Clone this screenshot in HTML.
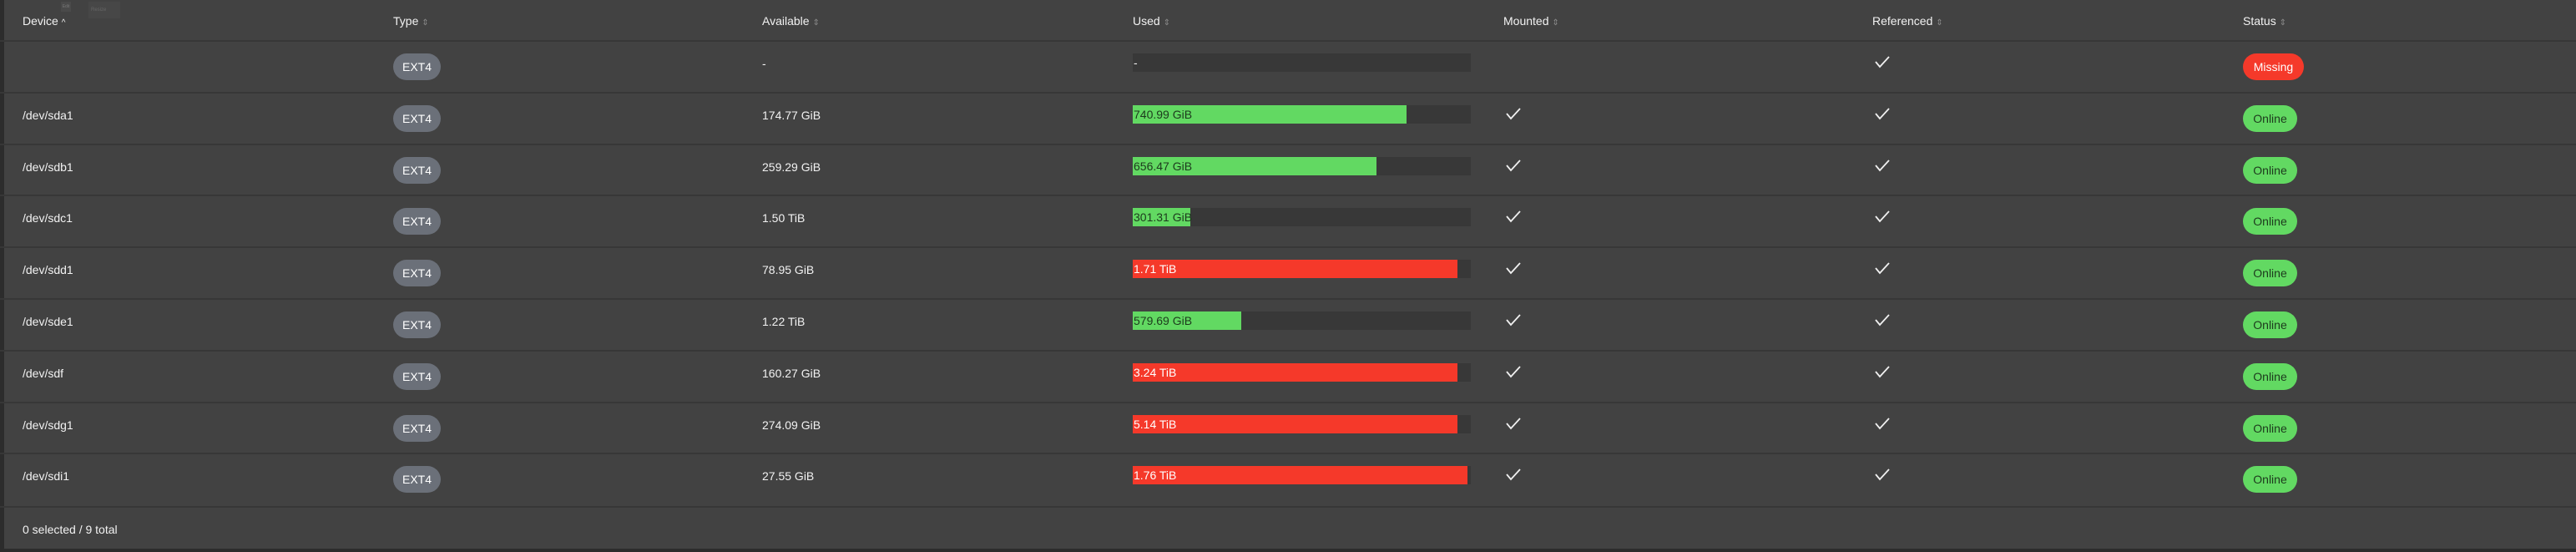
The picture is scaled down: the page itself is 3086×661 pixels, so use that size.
<!DOCTYPE html>
<html><head><meta charset="utf-8"><style>
*{margin:0;padding:0;box-sizing:border-box}
body{width:3086px;height:661px;background:#424242;position:relative;overflow:hidden;font-family:"Liberation Sans",sans-serif;font-size:14px;color:#f2f2f2}
.a{position:absolute;white-space:nowrap}
.hl{position:absolute;left:0;width:3086px;height:2px;background:#373737}
.t{line-height:16px}
.badge{position:absolute;height:32px;border-radius:16px;line-height:32px;text-align:center;font-size:14px}
.track{position:absolute;left:1357px;width:405px;height:22px;background:#383838}
.fill{position:absolute;left:0;top:0;height:22px;line-height:22px;font-size:14px;padding-left:1px;white-space:nowrap;overflow:visible}
.g{background:#62d962;color:#1d3a1d}
.r{background:#f5392a;color:#fff}
.ar{color:#8a8a8a;font-size:10px}
</style></head><body>
<div class="a" style="left:0;top:0;width:5px;height:661px;background:#2c2c2c"></div>
<div class="a" style="left:0;top:657px;width:3086px;height:4px;background:#2c2c2c"></div>
<div class="a" style="left:73px;top:2px;width:12px;height:12px;background:#4a4a4a;font-size:5px;color:#777;text-align:center;line-height:12px">Edit</div>
<div class="a" style="left:106px;top:2px;width:38px;height:20px;background:#474747;font-size:6px;color:#666;line-height:20px;padding-left:3px">Resize</div>

<div class="a t" style="left:27px;top:17px">Device <span style="font-size:10px">^</span></div>
<div class="a t" style="left:471px;top:17px">Type <span class="ar">⇕</span></div>
<div class="a t" style="left:913px;top:17px">Available <span class="ar">⇕</span></div>
<div class="a t" style="left:1357px;top:17px">Used <span class="ar">⇕</span></div>
<div class="a t" style="left:1801px;top:17px">Mounted <span class="ar">⇕</span></div>
<div class="a t" style="left:2243px;top:17px">Referenced <span class="ar">⇕</span></div>
<div class="a t" style="left:2687px;top:17px">Status <span class="ar">⇕</span></div>

<div id="rows"></div>
<div class="a t" style="left:27px;top:626px">0 selected / 9 total</div>
<script>
(function(){
var rows=[
["","-",null,"-",false,"Missing"],
["/dev/sda1","174.77 GiB","g","740.99 GiB",1685,"Online"],
["/dev/sdb1","259.29 GiB","g","656.47 GiB",1649,"Online"],
["/dev/sdc1","1.50 TiB","g","301.31 GiB",1426,"Online"],
["/dev/sdd1","78.95 GiB","r","1.71 TiB",1746,"Online"],
["/dev/sde1","1.22 TiB","g","579.69 GiB",1487,"Online"],
["/dev/sdf","160.27 GiB","r","3.24 TiB",1746,"Online"],
["/dev/sdg1","274.09 GiB","r","5.14 TiB",1746,"Online"],
["/dev/sdi1","27.55 GiB","r","1.76 TiB",1758,"Online"]];
var h='';
var chk=function(x,y){return '<svg class="a" style="left:'+x+'px;top:'+y+'px" width="20" height="16" viewBox="0 0 20 16"><polyline points="2,8 7,14 18,2" fill="none" stroke="#f0f0f0" stroke-width="1.8"/></svg>';};
for(var i=0;i<rows.length;i++){
 var r=rows[i],ry=Math.round(49+i*61.8);
 h+='<div class="hl" style="top:'+(ry-1)+'px"></div>';
 h+='<div class="a t" style="left:27px;top:'+(ry+19)+'px">'+r[0]+'</div>';
 h+='<div class="badge" style="left:471px;top:'+(ry+15)+'px;width:57px;background:#6b7079;color:#fff">EXT4</div>';
 h+='<div class="a t" style="left:913px;top:'+(ry+19)+'px">'+r[1]+'</div>';
 h+='<div class="track" style="top:'+(ry+15)+'px">';
 if(r[2]) h+='<div class="fill '+r[2]+'" style="width:'+(r[4]-1357)+'px">'+r[3]+'</div>';
 else h+='<div class="fill" style="color:#eee">-</div>';
 h+='</div>';
 if(r[4]!==false) h+=chk(1803,ry+17);
 h+=chk(2245,ry+17);
 if(r[5]=="Missing") h+='<div class="badge" style="left:2687px;top:'+(ry+15)+'px;width:73px;background:#f5392a;color:#fff">Missing</div>';
 else h+='<div class="badge" style="left:2687px;top:'+(ry+15)+'px;width:65px;background:#62d962;color:#1d3a1d">Online</div>';
}
h+='<div class="hl" style="top:606px"></div>';
document.getElementById('rows').innerHTML=h;
})();
</script>
</body></html>
